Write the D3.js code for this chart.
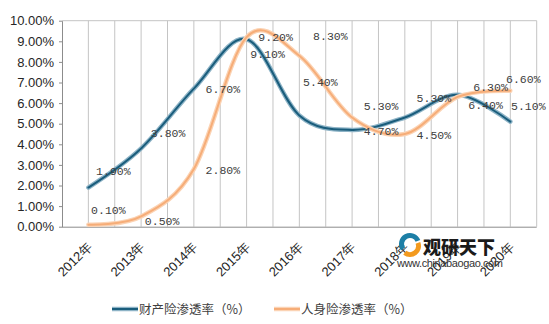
<!DOCTYPE html>
<html><head><meta charset="utf-8">
<script src="https://cdn.jsdelivr.net/npm/d3@7"></script>
<style>body{margin:0;background:#fff}svg{display:block}</style>
</head><body><svg id="c" width="549" height="324"></svg>
<script>
const years = ["2012年","2013年","2014年","2015年","2016年","2017年","2018年","2019年","2020年"];
const propertyRate = [1.9, 3.8, 6.7, 9.1, 5.4, 4.7, 5.3, 6.4, 5.1];
const lifeRate = [0.1, 0.5, 2.8, 9.2, 8.3, 5.3, 4.5, 6.3, 6.6];
const yTicks = [0,1,2,3,4,5,6,7,8,9,10];
const seriesNames = ["财产险渗透率（%）","人身险渗透率（%）"];
// label offsets (px) relative to the point
const propertyLabelOffset = [[25,-17],[27,-15],[29,0],[21,15],[21,-33],[29,1],[29,-20],[28,10],[18,-16]];
const lifeLabelOffset = [[20,-15],[21,5],[29,1],[29,0],[31,-20],[29,-12],[29,1],[33,-10],[13,-12]];

const svg = d3.select("#c");
const L=62, R=536.7, T=20.7, B=226.7;
const x = d3.scalePoint().domain(years).range([L,R]).padding(0.5);
const y = d3.scaleLinear().domain([0,10]).range([B,T]);
const step = x.step();

// gridlines
const gx = [];
years.forEach(yr=>{gx.push(x(yr)); gx.push(x(yr)+step/2);});
svg.append("g").selectAll("line").data(gx).join("line")
  .attr("x1",d=>d).attr("x2",d=>d).attr("y1",T).attr("y2",B)
  .attr("stroke","#c4c4c4").attr("stroke-width",1);
svg.append("line").attr("x1",L).attr("x2",R).attr("y1",T).attr("y2",T).attr("stroke","#c4c4c4");

// y axis
const ya = svg.append("g").attr("transform",`translate(${L},0)`)
  .call(d3.axisLeft(y).tickValues(yTicks).tickFormat(d=>d.toFixed(2)+"%").tickSize(3).tickSizeOuter(0));
ya.select(".domain").attr("stroke","#8c8c8c");
ya.selectAll(".tick line").attr("stroke","#8c8c8c");
ya.selectAll("text").attr("font-family","Liberation Sans, Arial, sans-serif").attr("font-size",13).attr("fill","#262626").attr("x",-8);

// x axis
const xa = svg.append("g").attr("transform",`translate(0,${B})`)
  .call(d3.axisBottom(x).tickSize(0).tickSizeOuter(0));
xa.select(".domain").attr("stroke","#8c8c8c").attr("d",`M${L},0.5H${R}`);
xa.selectAll("text").attr("font-family","Liberation Sans, Arial, sans-serif").attr("font-size",13).attr("fill","#262626")
  .attr("text-anchor","end").attr("dy",0).attr("y",0)
  .attr("transform","translate(4,21) rotate(-45)");

const line = d3.line().x((d,i)=>x(years[i])).y(d=>y(d)).curve(d3.curveCardinal.tension(0));
function drawSeries(vals, outer, inner){
  svg.append("path").attr("d",line(vals)).attr("fill","none").attr("stroke",outer).attr("stroke-width",4.5).attr("stroke-linecap","round");
  svg.append("path").attr("d",line(vals)).attr("fill","none").attr("stroke",inner).attr("stroke-width",2).attr("stroke-linecap","round");
}
drawSeries(propertyRate,"#8db3c6","#1a5d7c");
drawSeries(lifeRate,"#fbd3b4","#f6ad78");

function drawLabels(vals, offs){
  svg.append("g").selectAll("text").data(vals).join("text")
    .attr("x",(d,i)=>x(years[i])+offs[i][0]).attr("y",(d,i)=>y(d)+offs[i][1]+4)
    .attr("text-anchor","middle").attr("font-family","Liberation Mono, monospace").attr("font-size",11.5)
    .attr("fill","#404040").text(d=>d.toFixed(2)+"%");
}
drawLabels(propertyRate, propertyLabelOffset);
drawLabels(lifeRate, lifeLabelOffset);

// watermark
const wm = svg.append("g");
wm.append("path").attr("d",d3.arc()({innerRadius:6,outerRadius:11,startAngle:-2.2,endAngle:1.2})).attr("transform","translate(410,244)").attr("fill","#1d7fa6");
wm.append("path").attr("d",d3.arc()({innerRadius:6,outerRadius:11,startAngle:1.2,endAngle:3.8})).attr("transform","translate(410,246)").attr("fill","#f39a1e");
wm.append("text").attr("x",423).attr("y",254).attr("font-family","Noto Sans CJK SC, sans-serif").attr("font-weight",900).attr("font-size",18).attr("fill","#1a1a1a").text("观研天下");
wm.append("text").attr("x",397).attr("y",267).attr("font-family","Liberation Sans, Arial, sans-serif").attr("font-size",11).attr("fill","#333").attr("textLength",106).text("www.chinabaogao.com");

// legend
const lg = svg.append("g").attr("font-family","Noto Sans CJK SC, sans-serif").attr("font-size",12.5).attr("fill","#404040");
[[112,"#8db3c6","#1a5d7c"],[274,"#fbd3b4","#f6ad78"]].forEach((c,i)=>{
  lg.append("line").attr("x1",c[0]).attr("x2",c[0]+26).attr("y1",309).attr("y2",309).attr("stroke",c[1]).attr("stroke-width",4.5);
  lg.append("line").attr("x1",c[0]).attr("x2",c[0]+26).attr("y1",309).attr("y2",309).attr("stroke",c[2]).attr("stroke-width",2);
  lg.append("text").attr("x",c[0]+27).attr("y",313.5).text(seriesNames[i]);
});
</script></body></html>
